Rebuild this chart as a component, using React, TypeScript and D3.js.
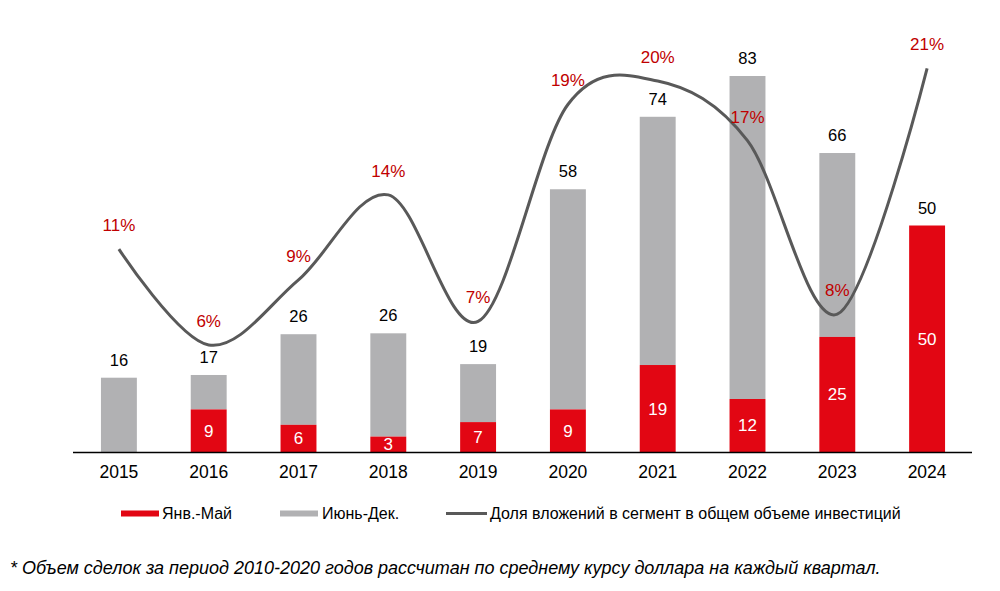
import React from "react";
import * as d3 from "d3";

const years = ["2015","2016","2017","2018","2019","2020","2021","2022","2023","2024"];
// Jan–May volume (red), full-year totals (red + gray)
const janMay = [0, 9.4, 6.0, 3.4, 6.6, 9.4, 19.2, 11.7, 25.4, 50];
const totals = [16.4, 17, 26, 26.2, 19.4, 58, 74, 83, 66, 50];
// share of segment in total investments, %
const share = [11, 5.7, 9.3, 14, 7, 19, 20.3, 17, 7.4, 21];
const shareLabels = ["11%", "6%", "9%", "14%", "7%", "19%", "20%", "17%", "8%", "21%"];
const legendLabels = ["Янв.-Май", "Июнь-Дек.", "Доля вложений в сегмент в общем объеме инвестиций"];
const footnote = "* Объем сделок за период 2010-2020 годов рассчитан по среднему курсу доллара на каждый квартал.";

const RED = "#E20613";
const GRAY = "#B1B1B3";
const LINE = "#595959";
const PCT = "#C00000";
const FONT = "'Liberation Sans', Arial, sans-serif";

export default function App() {
  const W = 1000, H = 591;
  const x = d3.scaleBand<string>().domain(years).range([74, 972]).paddingInner(0.6).paddingOuter(0.3);
  const y = d3.scaleLinear().domain([0, 100]).range([452, -1]);
  const y2 = d3.scaleLinear().domain([0, 25]).range([448, -4]);
  const cx = (yr: string) => (x(yr) as number) + x.bandwidth() / 2;

  const line = d3.line<number>()
    .x((_, i) => cx(years[i]))
    .y((d) => y2(d))
    .curve(d3.curveCardinal.tension(0));

  return (
    <svg width={W} height={H} style={{ position: "absolute", left: 0, top: 0, background: "#fff" }} fontFamily={FONT}>
      {years.map((yr, i) => {
        const bx = x(yr) as number;
        const bw = x.bandwidth();
        const red = janMay[i];
        const tot = totals[i];
        return (
          <g key={yr}>
            {tot > red && <rect x={bx} y={y(tot)} width={bw} height={y(red) - y(tot)} fill={GRAY} />}
            {red > 0 && <rect x={bx} y={y(red)} width={bw} height={y(0) - y(red)} fill={RED} />}
            {red > 0 && (
              <text x={cx(yr)} y={(y(red) + y(0)) / 2 + 6} textAnchor="middle" fill="#fff" fontSize={17}>{Math.round(red)}</text>
            )}
            <text x={cx(yr)} y={y(tot) - 12} textAnchor="middle" fill="#000" fontSize={16.5}>{Math.round(tot)}</text>
            <text x={cx(yr)} y={478} textAnchor="middle" fill="#000" fontSize={17.5}>{yr}</text>
          </g>
        );
      })}
      <line x1={73} x2={972} y1={452.5} y2={452.5} stroke="#000" strokeWidth={1.5} />
      <path d={line(share) || ""} fill="none" stroke={LINE} strokeWidth={3} />
      {years.map((yr, i) => (
        <text key={"p" + yr} x={cx(yr)} y={y2(share[i]) - 18} textAnchor="middle" fill={PCT} fontSize={17}>{shareLabels[i]}</text>
      ))}
      <g fontSize={16} fill="#000">
        <rect x={121} y={510.5} width={38} height={6} fill={RED} />
        <text x={162} y={519}>{legendLabels[0]}</text>
        <rect x={280} y={510.5} width={38} height={6} fill={GRAY} />
        <text x={322} y={519}>{legendLabels[1]}</text>
        <line x1={446} x2={487} y1={513.5} y2={513.5} stroke={LINE} strokeWidth={3} />
        <text x={490} y={519}>{legendLabels[2]}</text>
      </g>
      <text x={10} y={574} fontSize={18} fontStyle="italic" fill="#000">{footnote}</text>
    </svg>
  );
}
